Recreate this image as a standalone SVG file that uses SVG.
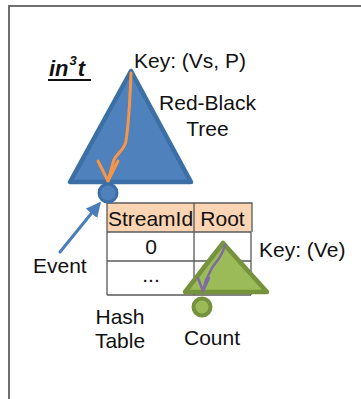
<svg xmlns="http://www.w3.org/2000/svg" width="361" height="399" viewBox="0 0 361 399">
  <style>
    .t { font-family: "Liberation Sans", Arial, sans-serif; font-size: 21px; fill: #111; }
    .mid { text-anchor: middle; }
    .blueTri { fill: #4F81BD; stroke: #3B6FA6; stroke-width: 4.5; stroke-linejoin: round; }
    .greenTri { fill: #9BBB59; stroke: #76923C; stroke-width: 4.5; stroke-linejoin: round; }
    .grid { stroke: #5a5a5a; stroke-width: 1.3; fill: none; }
  </style>
  <defs>
    <marker id="blueHead" viewBox="0 0 10 10" refX="8" refY="5" markerWidth="5" markerHeight="5" orient="auto" markerUnits="strokeWidth">
      <path d="M0,0 L10,5 L0,10 z" fill="#4A7EBB"/>
    </marker>
  </defs>

  <rect width="361" height="399" fill="#ffffff"/>
  <!-- outer frame -->
  <path d="M361,6 H9 V399" fill="none" stroke="#6e6e6e" stroke-width="2"/>

  <!-- title -->
  <g id="title">
    <text x="49" y="76" font-family="'Liberation Sans', Arial, sans-serif" font-size="22" font-weight="bold" font-style="italic" fill="#111">in<tspan font-size="13" dy="-11" dx="1">3</tspan><tspan dy="11" dx="1">t</tspan></text>
    <line x1="48" y1="80" x2="91" y2="80" stroke="#111" stroke-width="2"/>
  </g>

  <!-- red-black tree -->
  <g id="rbtree">
    <polygon class="blueTri" points="131,71 70,182 191,182"/>
    <text class="t" x="134" y="68">Key: (Vs, P)</text>
    <text class="t mid" x="207.5" y="110">Red-Black</text>
    <text class="t mid" x="207.5" y="136">Tree</text>
  </g>

  <!-- hash table -->
  <g id="hashtable">
    <rect x="107" y="203" width="145" height="29" fill="#FBD4B4"/>
    <path class="grid" d="M107,203 H252 V232 M107,232 H251 M107,261 H251 M107,295 H251 M107,203 V295 M194,203 V295 M251,232 V295"/>
    <text class="t mid" x="150.5" y="226">StreamId</text>
    <text class="t mid" x="222.5" y="226">Root</text>
    <text class="t mid" x="151" y="254">0</text>
    <text class="t mid" x="151" y="282" fill="#555" font-size="16">...</text>
    <text class="t mid" x="120" y="324">Hash</text>
    <text class="t mid" x="120" y="348">Table</text>
  </g>

  <!-- per-stream count tree -->
  <g id="counttree">
    <polygon class="greenTri" points="223,243 185,292 267,292"/>
    <text class="t" x="259" y="257">Key: (Ve)</text>
  </g>

  <!-- connectors -->
  <g id="connectors" fill="none" stroke-linecap="round" stroke-linejoin="round">
    <path d="M131,73 C130,100 128,128 126,141 C124,152 115,153 113,163 L108,181" stroke="#F79646" stroke-width="3"/>
    <path d="M98,161 L108,181 L118,161" stroke="#F79646" stroke-width="3"/>
    <path d="M225,245 C222,256 218,260 214,265 C209,271 209,276 206,280 L203,291" stroke="#7F6AA2" stroke-width="2.5"/>
    <path d="M198,278 L203,291 L209,278" stroke="#7F6AA2" stroke-width="2.5"/>
    <line x1="60" y1="252" x2="99" y2="204" stroke="#4A7EBB" stroke-width="3" marker-end="url(#blueHead)"/>
  </g>

  <!-- event node -->
  <g id="event">
    <circle cx="108" cy="193" r="9" fill="#4F81BD" stroke="#3B6FA6" stroke-width="3"/>
    <text class="t" x="33" y="273">Event</text>
  </g>

  <!-- count node -->
  <g id="count">
    <circle cx="202" cy="307" r="8.5" fill="#9BBB59" stroke="#76923C" stroke-width="4"/>
    <text class="t mid" x="212" y="345">Count</text>
  </g>
</svg>
